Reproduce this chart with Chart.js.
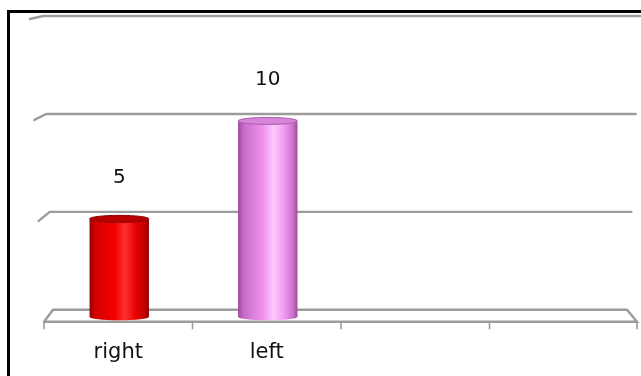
<!DOCTYPE html>
<html>
<head>
<meta charset="utf-8">
<script src="https://cdn.jsdelivr.net/npm/chart.js@4.4.1/dist/chart.umd.min.js"></script>
<style>
  html, body { margin: 0; padding: 0; background: #fff; overflow: hidden; }
  #frame { position: absolute; left: 7px; top: 10px; width: 720px; height: 420px; border: 3px solid #000; box-sizing: border-box; }
  #wrap { position: absolute; left: 0; top: 0; width: 641px; height: 376px; }
</style>
</head>
<body>
<div id="frame"></div>
<div id="wrap"><canvas id="c" width="641" height="376"></canvas></div>
<script>
// Category names and their counts (the last two slots are empty)
const categories = ['right', 'left', '', ''];
const counts = [5, 10, null, null];
const valueLabels = ['5', '10', '', ''];
// Value axis
const yMin = 0;
const yMax = 15;
const yStep = 5;

// Cylinder shading per bar
const barShades = [
  { stops: ['#9a0000', '#d40000', '#f20000', '#ff2e2e', '#e80000', '#c00000', '#8c0000'], cap: '#b80000', capEdge: '#8a0000' },
  { stops: ['#9c4c9c', '#c96cc9', '#ee92ee', '#ffcaff', '#f098f0', '#c86ec8', '#984c98'], cap: '#d884d8', capEdge: '#a85aa8' }
];
const stopPos = [0, 0.1, 0.42, 0.6, 0.78, 0.93, 1];

const GRID = '#9c9c9c';
const DEPTH_Y = 7;

function drawCylinder(ctx, cx, top, bottom, w, shade) {
  const rx = w / 2, ry = 3.5;
  const g = ctx.createLinearGradient(cx - rx, 0, cx + rx, 0);
  shade.stops.forEach((c, i) => g.addColorStop(stopPos[i], c));
  ctx.save();
  ctx.beginPath();
  ctx.moveTo(cx - rx, top);
  ctx.lineTo(cx - rx, bottom);
  ctx.ellipse(cx, bottom, rx, ry, 0, Math.PI, 0, true);
  ctx.lineTo(cx + rx, top);
  ctx.ellipse(cx, top, rx, ry, 0, 0, Math.PI, false);
  ctx.closePath();
  ctx.fillStyle = g;
  ctx.fill();
  // top cap
  ctx.beginPath();
  ctx.ellipse(cx, top, rx, ry, 0, 0, Math.PI * 2);
  ctx.fillStyle = shade.cap;
  ctx.fill();
  ctx.lineWidth = 1;
  ctx.strokeStyle = shade.capEdge;
  ctx.stroke();
  ctx.restore();
}

const scene3d = {
  id: 'scene3d',
  afterDraw(chart) {
    const ctx = chart.ctx;
    const ys = chart.scales.y;
    const xs = chart.scales.x;
    const area = chart.chartArea;
    const floorBack = ys.getPixelForValue(yMin);
    const span = floorBack - ys.getPixelForValue(yMax);

    ctx.save();
    ctx.lineCap = 'round';
    ctx.strokeStyle = GRID;
    ctx.lineWidth = 2.4;

    // back-wall gridlines with the side-wall edge stubs
    for (let v = yMin + yStep; v <= yMax; v += yStep) {
      const y = ys.getPixelForValue(v);
      const t = (floorBack - y) / span;
      const backL = area.left + 9 - t * 10;
      const frontL = area.left - 1 - t * 13;
      const frontY = y + 3 + (1 - t) * 9;
      const backR = area.right - 11 + t * 13;
      ctx.beginPath();
      ctx.moveTo(frontL, frontY);
      ctx.lineTo(backL, y);
      ctx.lineTo(backR, y);
      ctx.stroke();
    }

    // floor
    const frontY = floorBack + 12;
    ctx.beginPath();
    ctx.moveTo(area.left, frontY);
    ctx.lineTo(area.left + 9, floorBack);
    ctx.lineTo(area.right - 11, floorBack);
    ctx.lineTo(area.right - 1, frontY);
    ctx.lineTo(area.left, frontY);
    ctx.stroke();

    // category tick marks on the floor edge
    const catW = (xs.right - xs.left) / categories.length;
    ctx.lineWidth = 1.6;
    for (let i = 0; i <= categories.length; i++) {
      const x = Math.min(xs.left + i * catW, xs.right - 1);
      ctx.beginPath();
      ctx.moveTo(x, frontY);
      ctx.lineTo(x, frontY + 7);
      ctx.stroke();
    }
    ctx.restore();

    // cylinders and value labels
    const meta = chart.getDatasetMeta(0);
    meta.data.forEach((bar, i) => {
      if (counts[i] == null) return;
      const p = bar.getProps(['x', 'y', 'base', 'width'], true);
      const top = p.y + DEPTH_Y;
      const bottom = p.base + DEPTH_Y;
      drawCylinder(ctx, p.x + 1, top, bottom, p.width, barShades[i]);
      ctx.save();
      ctx.font = '20px "DejaVu Sans"';
      ctx.fillStyle = '#111';
      ctx.textAlign = 'center';
      ctx.textBaseline = 'middle';
      ctx.fillText(valueLabels[i], p.x + 1, top - 41);
      ctx.restore();
    });
  }
};

new Chart(document.getElementById('c'), {
  type: 'bar',
  data: {
    labels: categories,
    datasets: [{
      data: counts,
      backgroundColor: 'rgba(0,0,0,0)',
      borderWidth: 0,
      barPercentage: 0.4,
      categoryPercentage: 1.0
    }]
  },
  options: {
    responsive: false,
    animation: false,
    events: [],
    layout: { padding: { left: 44, right: 3, top: 16, bottom: -19 } },
    plugins: { legend: { display: false }, tooltip: { enabled: false }, title: { display: false } },
    scales: {
      x: {
        grid: { display: false, drawTicks: false },
        border: { display: false },
        ticks: { padding: 30, color: '#111', font: { family: 'DejaVu Sans', size: 21 }, maxRotation: 0 }
      },
      y: {
        display: false,
        min: yMin,
        max: yMax,
        ticks: { stepSize: yStep }
      }
    }
  },
  plugins: [scene3d]
});
</script>
</body>
</html>
